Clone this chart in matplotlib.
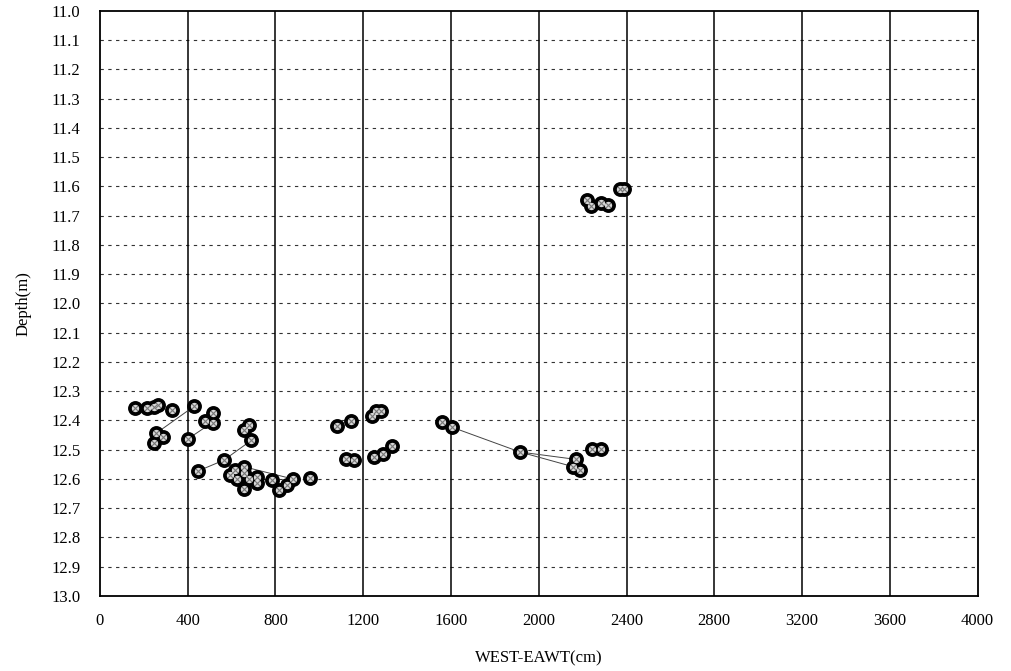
import numpy as np
import matplotlib.pyplot as plt

plt.rcParams['font.family'] = ['Liberation Serif', 'DejaVu Serif']

# distance along west-east line (cm) and depth (m) of each measured point
dist = [161, 215, 248, 265, 329, 428, 517, 477, 517, 257, 286, 248, 401,
        657, 680, 690, 564, 446, 594, 614, 625, 655, 655, 655, 680, 716,
        716, 785, 815, 853, 879, 955,
        1082, 1143, 1242, 1257, 1283, 1120, 1157, 1250, 1288, 1332,
        1559, 1604, 1915, 2168, 2156, 2189, 2244, 2283,
        2222, 2240, 2283, 2316, 2372, 2388]
depth = [12.357, 12.357, 12.355, 12.346, 12.365, 12.351, 12.374, 12.403, 12.41,
         12.442, 12.456, 12.476, 12.463,
         12.431, 12.414, 12.468, 12.536, 12.573, 12.585, 12.570, 12.600, 12.558,
         12.580, 12.633, 12.599, 12.592, 12.613, 12.604, 12.638, 12.619, 12.600, 12.596,
         12.420, 12.403, 12.386, 12.369, 12.369, 12.533, 12.536, 12.526, 12.516, 12.489,
         12.406, 12.423, 12.508, 12.533, 12.558, 12.568, 12.497, 12.497,
         11.648, 11.667, 11.657, 11.663, 11.608, 11.608]

# thin connecting lines between selected points
links = [
    ([250, 430], [12.447, 12.351]),
    ([401, 500], [12.463, 12.413]),
    ([446, 564, 690], [12.573, 12.536, 12.468]),
    ([655, 879], [12.558, 12.600]),
    ([1604, 1915, 2168], [12.423, 12.508, 12.533]),
    ([1915, 2156], [12.508, 12.558]),
]

xticks = np.arange(0, 4001, 400)
yticks = np.round(np.arange(11.0, 13.001, 0.1), 1)

fig = plt.figure(figsize=(10.11, 6.71), dpi=100)
ax = fig.add_axes([0.0989, 0.1118, 0.868, 0.872])

for y in yticks[1:-1]:
    ax.axhline(y, color='#333333', lw=0.8, ls=(0, (3, 4)), zorder=1)
for x in xticks[1:-1]:
    ax.axvline(x, color='black', lw=1.1, zorder=1)

for lx, ly in links:
    ax.plot(lx, ly, color='#444444', lw=0.7, zorder=2)

ax.scatter(dist, depth, s=115, c='black', zorder=3, linewidths=0)
ax.scatter(dist, depth, s=28, c='#d8d8d8', zorder=4, linewidths=0)
ax.scatter(dist, depth, s=14, c='#777777', marker='x', linewidths=0.8, zorder=5)

ax.set_xlim(0, 4000)
ax.set_ylim(13.0, 11.0)
ax.set_xticks(xticks)
ax.set_yticks(yticks)
ax.set_yticklabels(['%.1f' % v for v in yticks])
ax.tick_params(length=0, labelsize=12, pad=12)
ax.tick_params(axis='y', pad=14)
for s in ax.spines.values():
    s.set_linewidth(1.3)

ax.set_xlabel('WEST-EAWT(cm)', fontsize=12, labelpad=16)
ax.set_ylabel('Depth(m)', fontsize=12, labelpad=14)

fig.savefig('out.png', dpi=100)
